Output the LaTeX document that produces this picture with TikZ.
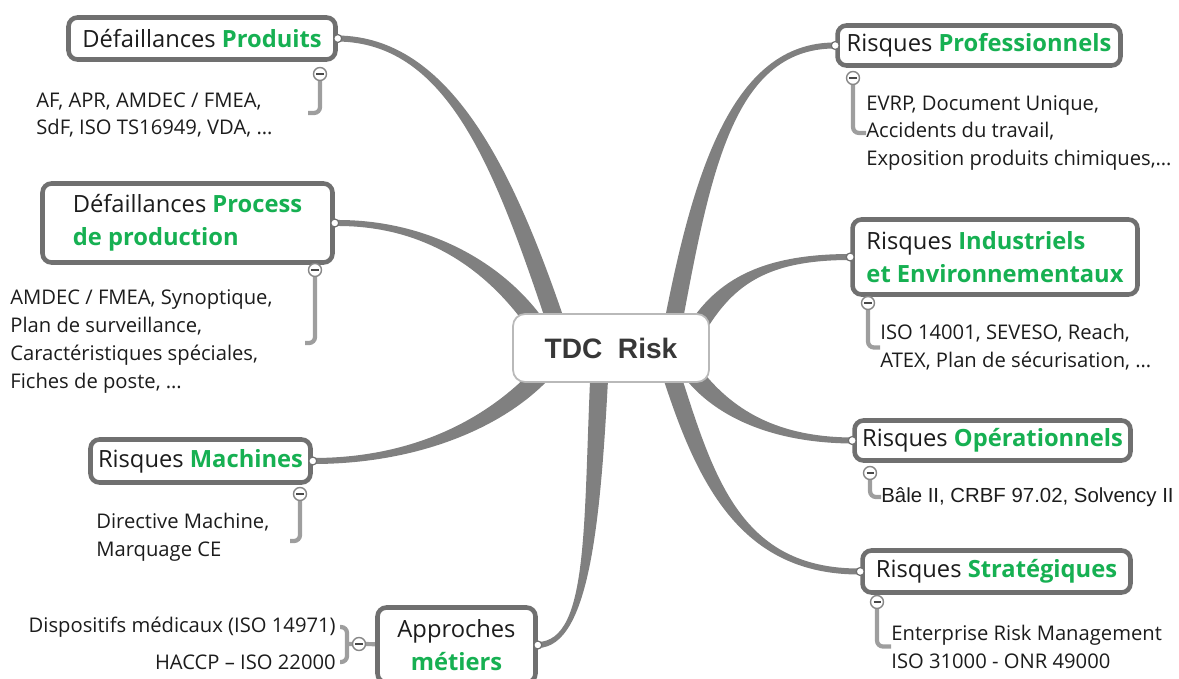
\documentclass[tikz,border=0pt]{standalone}
\usepackage{fontspec}
\setmainfont{Open Sans}
\newfontfamily\arialfont{Liberation Sans}
\usepackage{tikz}
\usetikzlibrary{calc, backgrounds}
\definecolor{BranchGrey}{RGB}{128,128,128}
\definecolor{BoxGrey}{RGB}{112,112,112}
\definecolor{HubGrey}{RGB}{185,185,185}
\definecolor{HubText}{RGB}{55,55,55}
\definecolor{LineGrey}{RGB}{158,158,158}
\definecolor{MinusGrey}{RGB}{135,135,135}
\definecolor{NoteBlack}{RGB}{28,28,28}
\definecolor{RiskGreen}{RGB}{22,176,82}

\newcommand{\hl}[1]{{\bfseries\color{RiskGreen}#1}}
% tapered branch: start, control 1, control 2, end
\newcommand{\branch}[4]{%
  \fill[BranchGrey] ($(#1)!0.18cm!90:(#2)$) .. controls ($(#2)!0.18cm!-90:(#1)$) and ($(#3)!0.06cm!90:(#4)$) .. ($(#4)!0.06cm!-90:(#3)$)
    -- ($(#4)!0.06cm!90:(#3)$) .. controls ($(#3)!0.06cm!-90:(#4)$) and ($(#2)!0.18cm!90:(#1)$) .. ($(#1)!0.18cm!-90:(#2)$) -- cycle;}

\begin{document}
\begin{tikzpicture}[
    x=0.02cm, y=-0.02cm,
    hub/.style = {rectangle, rounded corners=0.24cm, draw=HubGrey, line width=1pt, fill=white, minimum width=3.92cm, minimum height=1.36cm, font=\arialfont\bfseries\fontsize{16}{19}\selectfont, text=HubText},
    topic/.style = {rectangle, rounded corners=0.18cm, draw=BoxGrey, line width=2.6pt, fill=white, inner sep=0pt, font=\fontsize{13.5}{19}\selectfont, text=NoteBlack},
    note/.style = {inner sep=0pt, align=left, font=\fontsize{11.5}{15.9}\selectfont, text=NoteBlack},
    dot/.style = {circle, draw=BoxGrey, fill=white, line width=0.7pt, minimum size=0.16cm, inner sep=0pt},
    minus/.style = {circle, draw=MinusGrey, fill=white, line width=0.8pt, minimum size=0.26cm, inner sep=0pt,
      path picture={\draw[line width=1.2pt, NoteBlack!80] ([xshift=-2pt]path picture bounding box.center) -- ([xshift=2pt]path picture bounding box.center);}},
    bracket/.style = {draw=LineGrey, line width=2.4pt, rounded corners=0.12cm}
]
\useasboundingbox (0,0) rectangle (1179,679);
% Central node
\node[hub] (hub) at (611,348) {TDC\ \ Risk};
% Left topics
\node[topic, minimum width=5.34cm, minimum height=0.84cm] (prod) at (202,38.5) {Défaillances \hl{Produits}};
\node[topic, align=left, minimum width=5.8cm, minimum height=1.58cm] (proc) at (187.5,223) {Défaillances \hl{Process}\\\hl{de production}};
\node[topic, minimum width=4.4cm, minimum height=0.86cm] (mach) at (200.5,461) {Risques \hl{Machines}};
\node[topic, align=center, minimum width=3.16cm, minimum height=1.5cm] (appr) at (456.5,645) {Approches\\\hl{métiers}};
% Right topics
\node[topic, minimum width=5.66cm, minimum height=0.8cm] (prof) at (979,45.5) {Risques \hl{Professionnels}};
\node[topic, align=left, minimum width=5.7cm, minimum height=1.5cm] (indu) at (995,257) {Risques \hl{Industriels}\\\hl{et Environnementaux}};
\node[topic, minimum width=5.52cm, minimum height=0.8cm] (oper) at (992.5,440.5) {Risques \hl{Opérationnels}};
\node[topic, minimum width=5.36cm, minimum height=0.84cm] (stra) at (996.5,571.5) {Risques \hl{Stratégiques}};
% Branch ends
\node[dot] (d1) at (prod.east) {};
\node[dot] (d2) at (proc.east) {};
\node[dot] (d3) at (mach.east) {};
\node[dot] (d4) at (appr.east) {};
\node[dot] (d5) at (prof.west) {};
\node[dot] (d6) at (indu.west) {};
\node[dot] (d7) at (oper.west) {};
\node[dot] (d8) at (stra.west) {};
% Branch starts, hidden under the hub
\coordinate (s1) at (560,335);
\coordinate (s2) at (540,330);
\coordinate (s3) at (545,370);
\coordinate (s4) at (600,360);
\coordinate (s5) at (670,340);
\coordinate (s6) at (690,340);
\coordinate (s7) at (690,370);
\coordinate (s8) at (670,370);
% Notes
\node[note, anchor=west] (n1) at (36,115) {AF, APR, AMDEC / FMEA,\\SdF, ISO TS16949, VDA, …};
\node[note, anchor=west] (n2) at (10,341.5) {AMDEC / FMEA, Synoptique,\\Plan de surveillance,\\Caractéristiques spéciales,\\Fiches de poste, …};
\node[note, anchor=west] (n3) at (96,537.5) {Directive Machine,\\Marquage CE};
\node[note, anchor=east] (n4a) at (336,627) {Dispositifs médicaux (ISO 14971)};
\node[note, anchor=east] (n4b) at (336,662) {HACCP – ISO 22000};
\node[note, anchor=west] (n5) at (866,133) {EVRP, Document Unique,\\Accidents du travail,\\Exposition produits chimiques,…};
\node[note, anchor=west] (n6) at (880,347.5) {ISO 14001, SEVESO, Reach,\\ATEX, Plan de sécurisation, …};
\node[note, anchor=west, font=\arialfont\fontsize{11.6}{14}\selectfont] (n7) at (881,497) {Bâle II, CRBF 97.02, Solvency II};
\node[note, anchor=west] (n8) at (891,646.5) {Enterprise Risk Management\\ISO 31000 - ONR 49000};
% Collapse buttons
\node[minus] (m1) at (320,74) {};
\node[minus] (m2) at (315,270) {};
\node[minus] (m3) at (300,494) {};
\node[minus] (m4) at (359,644) {};
\node[minus] (m5) at (853,78) {};
\node[minus] (m6) at (868,303) {};
\node[minus] (m7) at (870,473) {};
\node[minus] (m8) at (877,602) {};
\coordinate (b1) at (308,113);
\coordinate (b2) at (305,343);
\coordinate (b3) at (290,541);
\coordinate (b4a) at (340,627);
\coordinate (b4m) at (347,644);
\coordinate (b4b) at (340,662);

\begin{scope}[on background layer]
    \branch{s1}{505,170}{450,40}{d1.center}
    \branch{s2}{500,270}{430,222}{d2.center}
    \branch{s3}{500,420}{420,461}{d3.center}
    \branch{s4}{592,520}{590,644}{d4.center}
    \branch{s5}{700,180}{730,45}{d5.center}
    \branch{s6}{720,285}{760,257}{d6.center}
    \branch{s7}{720,410}{770,440}{d7.center}
    \branch{s8}{705,480}{740,572}{d8.center}
    \draw[bracket] (m1.south) |- (b1);
    \draw[bracket] (m2.south) |- (b2);
    \draw[bracket] (m3.south) |- (b3);
    \draw[bracket] (b4a) -| (b4m) |- (b4b);
    \draw[bracket] (b4m) -- (m4) -- (appr);
    \draw[bracket] (m5.south) |- (n5.west);
    \draw[bracket] (m6.south) |- (n6.west);
    \draw[bracket] (m7.south) |- (n7.west);
    \draw[bracket] (m8.south) |- (n8.west);
\end{scope}
\end{tikzpicture}
\end{document}
